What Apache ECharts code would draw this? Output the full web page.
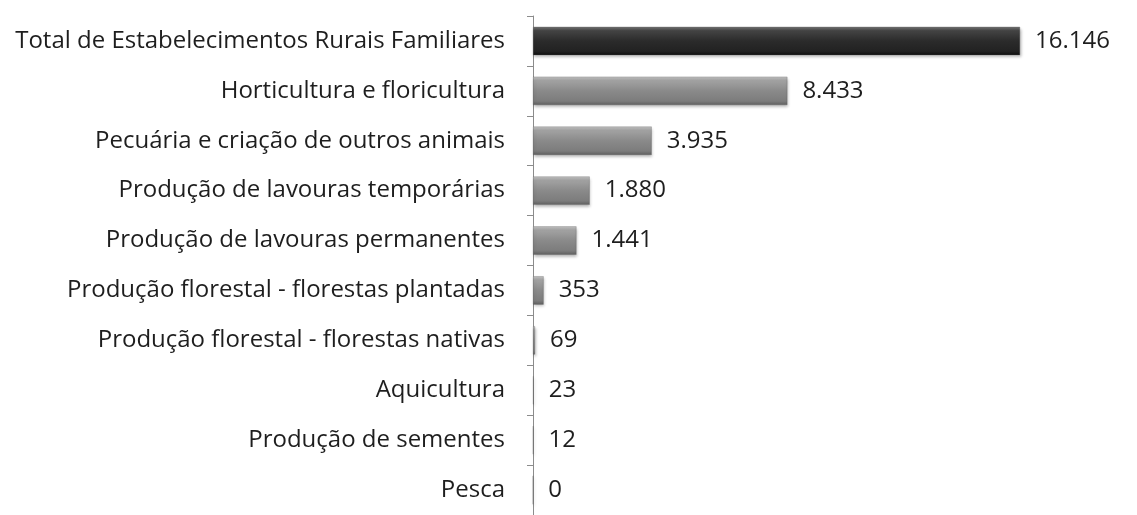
<!DOCTYPE html>
<html lang="pt">
<head>
    <meta charset="UTF-8">
    <title>Estabelecimentos Rurais Familiares</title>
    <script src="https://cdn.jsdelivr.net/npm/echarts@6/dist/echarts.min.js"></script>
    <style>
        html, body { margin: 0; padding: 0; background: #fff; }
        #charts { width: 1137px; height: 515px; }
    </style>
</head>
<body>
<div id="charts"></div>

<script>
    // categorias (de cima para baixo)
    var categorias = [
        'Total de Estabelecimentos Rurais Familiares',
        'Horticultura e floricultura',
        'Pecuária e criação de outros animais',
        'Produção de lavouras temporárias',
        'Produção de lavouras permanentes',
        'Produção florestal - florestas plantadas',
        'Produção florestal - florestas nativas',
        'Aquicultura',
        'Produção de sementes',
        'Pesca'
    ];
    var valores = [16146, 8433, 3935, 1880, 1441, 353, 69, 23, 12, 0];

    // formato 16.146
    function fmt(v) {
        return String(v).replace(/\B(?=(\d{3})+(?!\d))/g, '.');
    }

    var cinza = new echarts.graphic.LinearGradient(0, 0, 0, 1, [
        {offset: 0, color: '#c4c4c4'},
        {offset: 0.14, color: '#a2a2a2'},
        {offset: 0.5, color: '#8a8a8a'},
        {offset: 0.86, color: '#7c7c7c'},
        {offset: 1, color: '#5e5e5e'}
    ]);
    var preto = new echarts.graphic.LinearGradient(0, 0, 0, 1, [
        {offset: 0, color: '#777'},
        {offset: 0.14, color: '#444'},
        {offset: 0.5, color: '#2b2b2b'},
        {offset: 0.86, color: '#222'},
        {offset: 1, color: '#0e0e0e'}
    ]);

    var dados = valores.map(function (v, i) {
        return {value: v, itemStyle: {color: i === 0 ? preto : cinza}};
    });

    var myChart = echarts.init(document.getElementById('charts'));
    myChart.setOption({
        animation: false,
        grid: {left: 533, right: 61, top: 16, bottom: -7},
        xAxis: {
            type: 'value',
            min: 0,
            max: 18000,
            show: false
        },
        yAxis: {
            type: 'category',
            data: categorias,
            inverse: true,
            axisLine: {show: true, lineStyle: {color: '#8c8c8c', width: 1}},
            axisTick: {show: true, length: 6, lineStyle: {color: '#8c8c8c'}},
            axisLabel: {
                margin: 28,
                color: '#1e1e1e',
                fontSize: 24,
                fontFamily: 'Open Sans'
            }
        },
        series: [{
            type: 'bar',
            data: dados,
            barWidth: '57%',
            itemStyle: {
                borderColor: 'rgba(90,90,90,0.6)',
                borderWidth: 0.5,
                shadowBlur: 3,
                shadowOffsetX: 1,
                shadowOffsetY: 2,
                shadowColor: 'rgba(0,0,0,0.3)'
            },
            label: {
                show: true,
                position: 'right',
                distance: 15,
                color: '#1e1e1e',
                fontSize: 24,
                fontFamily: 'Open Sans',
                formatter: function (p) { return fmt(p.value); }
            }
        }]
    });
</script>
</body>
</html>
